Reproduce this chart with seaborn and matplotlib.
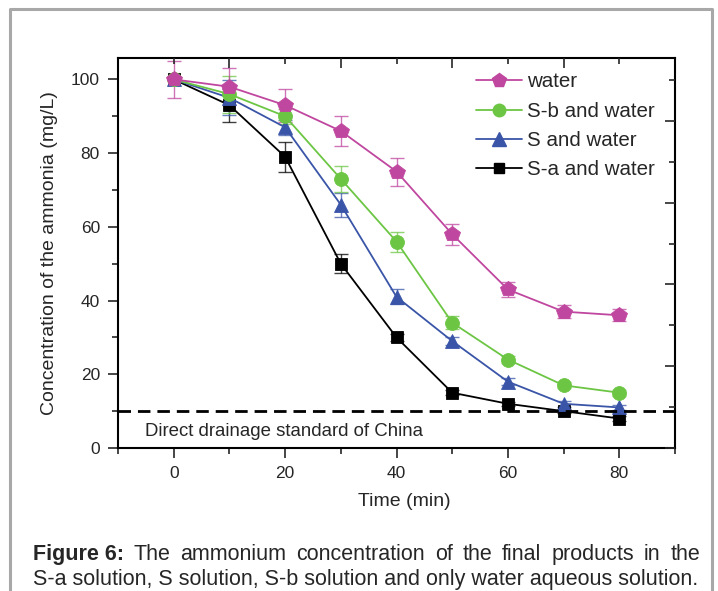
import numpy as np
import pandas as pd
import matplotlib
matplotlib.use("Agg")
import matplotlib.pyplot as plt
import seaborn as sns
from matplotlib.lines import Line2D
from matplotlib.ticker import MultipleLocator, FixedLocator, NullFormatter

# ---------------- data ----------------
time_min = [0, 10, 20, 30, 40, 50, 60, 70, 80]
water = [100, 98, 93, 86, 75, 58, 43, 37, 36]
water_err = [5, 5, 4.5, 4.2, 3.8, 2.9, 2.1, 1.8, 1.6]
sb_water = [100, 96, 90, 73, 56, 34, 24, 17, 15]
sb_err = [0, 5, 2, 3.6, 2.7, 1.7, 1.0, 0.8, 0.8]
s_water = [100, 95, 87, 66, 41, 29, 18, 12, 11]
s_err = [0, 4.7, 2, 3.2, 2.0, 1.0, 1.0, 0.8, 0.8]
sa_water = [100, 93, 79, 50, 30, 15, 12, 10, 8]
sa_err = [0, 4.5, 4, 2.5, 1.0, 0.6, 0.6, 0.6, 0.6]
series_names = ["water", "S-b and water", "S and water", "S-a and water"]
standard_level = 10

colors = {"water": "#c0479f", "S-b and water": "#6cc644",
          "S and water": "#3a55a8", "S-a and water": "#000000"}
markers = {"water": "p", "S-b and water": "o", "S and water": "^", "S-a and water": "s"}
msizes = {"water": 11.5, "S-b and water": 10, "S and water": 10.5, "S-a and water": 8.5}

vals = {"water": water, "S-b and water": sb_water, "S and water": s_water, "S-a and water": sa_water}
errs = {"water": water_err, "S-b and water": sb_err, "S and water": s_err, "S-a and water": sa_err}

df = pd.concat([pd.DataFrame({"Time": time_min, "Conc": vals[n], "Err": errs[n], "Series": n})
                for n in series_names], ignore_index=True)

# ---------------- figure ----------------
sns.set_theme(style="ticks")
plt.rcParams["font.family"] = ["Liberation Sans", "DejaVu Sans"]

fig = plt.figure(figsize=(7.18, 5.91), dpi=100)
ax = fig.add_axes([118/718, 1-448/591, (675-118)/718, (448-58)/591])

# error bars
for n in series_names[::-1]:
    d = df[df.Series == n]
    ax.errorbar(d.Time, d.Conc, yerr=d.Err, fmt="none", ecolor=colors[n], elinewidth=1.0,
                capsize=5, capthick=1.0, alpha=0.75, zorder=2, clip_on=False)

# lines + markers
for n in series_names[::-1]:
    d = df[df.Series == n]
    sns.lineplot(data=d, x="Time", y="Conc", ax=ax, color=colors[n], marker=markers[n],
                 markersize=msizes[n], markeredgewidth=0.6, markeredgecolor=colors[n],
                 linewidth=1.3, label=n, zorder=3, legend=False)

ax.axhline(standard_level, color="black", lw=2, ls=(0, (4.5, 2.5)), zorder=4)
ax.text(-5.2, 4.6, "Direct drainage standard of China", fontsize=13.4, va="center", ha="left")

ax.set_xlim(-10, 90)
ax.set_ylim(0, 105.8)
ax.xaxis.set_major_locator(MultipleLocator(20))
ax.xaxis.set_minor_locator(MultipleLocator(10))
ax.yaxis.set_major_locator(MultipleLocator(20))
ax.yaxis.set_minor_locator(MultipleLocator(10))
ax.tick_params(which="major", direction="out", length=7, width=1.2, labelsize=12.5, pad=6)
ax.tick_params(which="minor", direction="out", length=4, width=1.2)
ax.tick_params(top=False, right=False, which="both")
for sp in ax.spines.values():
    sp.set_linewidth(1.5)
    sp.set_visible(True)
    sp.set_color("black")

ax.set_xlabel("Time (min)", fontsize=14, labelpad=12)
ax.xaxis.set_label_coords((404-118)/557, -0.115)
ax.set_ylabel("Concentration of the ammonia (mg/L)", fontsize=14, labelpad=9)

# secondary right axis (different scale, inward ticks)
ax2 = ax.twinx()
ax2.set_ylim(0, 95.4)
ax2.yaxis.set_major_locator(MultipleLocator(20))
ax2.yaxis.set_minor_locator(MultipleLocator(10))
ax2.yaxis.set_major_formatter(NullFormatter())
ax2.tick_params(which="major", direction="in", length=7, width=1.2)
ax2.tick_params(which="minor", direction="in", length=4, width=1.2)
for sp in ax2.spines.values():
    sp.set_visible(False)

# secondary top axis
ax3 = ax.twiny()
ax3.set_xlim(-10, 90)
ax3.xaxis.set_major_locator(FixedLocator([10, 30, 50, 70]))
ax3.xaxis.set_minor_locator(FixedLocator([0, 20, 40, 60, 80]))
ax3.xaxis.set_major_formatter(NullFormatter())
ax3.tick_params(which="major", direction="in", length=7, width=1.2)
ax3.tick_params(which="minor", direction="in", length=4, width=1.2)
for sp in ax3.spines.values():
    sp.set_visible(False)

# legend
handles = [Line2D([], [], color=colors[n], marker=markers[n], markersize=msizes[n] * 0.9,
                  markeredgecolor=colors[n], lw=1.3) for n in series_names]
ax.legend(handles, series_names, loc="upper left", bbox_to_anchor=((476-118)/557, 0.963),
          frameon=False, fontsize=14.8, handlelength=2.26, handletextpad=0.2,
          labelspacing=0.5, numpoints=1, borderaxespad=0, borderpad=0)

# outer frame
fig.add_artist(Line2D([10/718, 10/718, 712/718, 712/718], [-0.01, 1-9/591, 1-9/591, -0.01],
                      transform=fig.transFigure, color="#a8a8a8", lw=2.2))

# caption (justified first line)
fig.canvas.draw()
r = fig.canvas.get_renderer()
x0, x1 = 33/718, 700/718
y1, y2 = 1-560/591, 1-585/591
cap_fs = 15.5
words = [("Figure 6:", "bold")] + [(w, "normal") for w in
         "The ammonium concentration of the final products in the".split()]
arts = []
for w, wt in words:
    t = fig.text(0, y1, w, fontsize=cap_fs, fontweight=wt, va="baseline", ha="left")
    arts.append(t)
widths = [t.get_window_extent(r).width / fig.bbox.width for t in arts]
gap = (x1 - x0 - sum(widths)) / (len(arts) - 1)
xp = x0
for t, w in zip(arts, widths):
    t.set_x(xp)
    xp += w + gap
fig.text(x0, y2, "S-a solution, S solution, S-b solution and only water aqueous solution.",
         fontsize=cap_fs, va="baseline", ha="left")

fig.savefig("out.png", dpi=100)
